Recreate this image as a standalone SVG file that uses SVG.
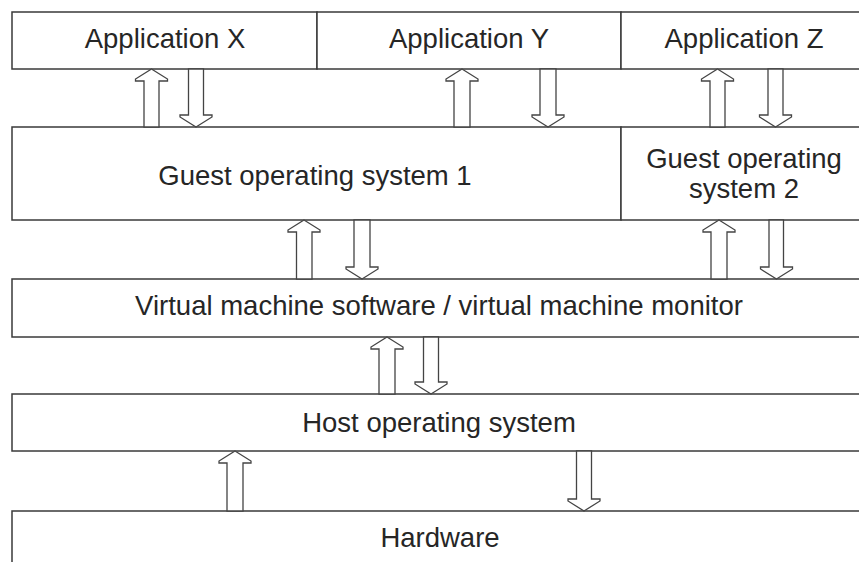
<svg xmlns="http://www.w3.org/2000/svg" width="859" height="562" viewBox="0 0 859 562">
<style>
.box{fill:#fff;stroke:#3a3a3a;stroke-width:1.5}
.lbl{font-family:"Liberation Sans",Arial,Helvetica,sans-serif;font-size:27.5px;fill:#262626;text-anchor:middle}
.arr{fill:#fff;stroke:#444;stroke-width:1.3;stroke-linejoin:miter}
</style>
<rect width="859" height="562" fill="#fff"/>
<g id="app-x"><rect class="box" x="12" y="12" width="305" height="57"/><text class="lbl" x="165" y="48">Application X</text></g>
<g id="app-y"><rect class="box" x="317" y="12" width="304" height="57"/><text class="lbl" x="469" y="48">Application Y</text></g>
<g id="app-z"><rect class="box" x="621" y="12" width="250" height="57"/><text class="lbl" x="744" y="48">Application Z</text></g>
<g id="guest-os-1"><rect class="box" x="12" y="127" width="609" height="93"/><text class="lbl" x="315" y="185">Guest operating system 1</text></g>
<g id="guest-os-2"><rect class="box" x="621" y="127" width="250" height="93"/><text class="lbl" x="744" y="168">Guest operating</text><text class="lbl" x="744" y="198">system 2</text></g>
<g id="vmm"><rect class="box" x="12" y="279" width="859" height="58"/><text class="lbl" x="439" y="315">Virtual machine software / virtual machine monitor</text></g>
<g id="host-os"><rect class="box" x="12" y="394" width="859" height="57"/><text class="lbl" x="439" y="432">Host operating system</text></g>
<g id="hardware"><rect class="box" x="12" y="511" width="859" height="70"/><text class="lbl" x="440" y="547">Hardware</text></g>
<g id="connectors">
<path class="arr" d="M151.5,69 L167.5,79 L167.5,81 L159,81 L159,127 L144,127 L144,81 L135.5,81 L135.5,79 Z"/>
<path class="arr" d="M196,127 L212,117 L212,115 L203.5,115 L203.5,69 L188.5,69 L188.5,115 L180,115 L180,117 Z"/>
<path class="arr" d="M462,69 L478,79 L478,81 L470,81 L470,127 L454,127 L454,81 L446,81 L446,79 Z"/>
<path class="arr" d="M548,127 L564,117 L564,115 L556,115 L556,69 L540,69 L540,115 L532,115 L532,117 Z"/>
<path class="arr" d="M717.5,69 L733.5,79 L733.5,81 L725,81 L725,127 L710,127 L710,81 L701.5,81 L701.5,79 Z"/>
<path class="arr" d="M775.5,127 L791.5,117 L791.5,115 L783,115 L783,69 L768,69 L768,115 L759.5,115 L759.5,117 Z"/>
<path class="arr" d="M304,220 L320,230 L320,232 L312,232 L312,279 L296.5,279 L296.5,232 L288,232 L288,230 Z"/>
<path class="arr" d="M362,279 L378,269 L378,267 L370,267 L370,220 L354,220 L354,267 L346,267 L346,269 Z"/>
<path class="arr" d="M719,220 L735,230 L735,232 L727,232 L727,279 L711,279 L711,232 L703,232 L703,230 Z"/>
<path class="arr" d="M776.5,279 L792.5,269 L792.5,267 L783.5,267 L783.5,220 L769,220 L769,267 L760.5,267 L760.5,269 Z"/>
<path class="arr" d="M387,337 L403,347 L403,349 L395,349 L395,394 L379,394 L379,349 L371,349 L371,347 Z"/>
<path class="arr" d="M431,394 L447,384 L447,382 L438.5,382 L438.5,337 L423.5,337 L423.5,382 L415,382 L415,384 Z"/>
<path class="arr" d="M235,451 L251,461 L251,463 L243,463 L243,511 L227,511 L227,463 L219,463 L219,461 Z"/>
<path class="arr" d="M584,511 L600,501 L600,499 L591.5,499 L591.5,451 L576.5,451 L576.5,499 L568,499 L568,501 Z"/>
</g>
</svg>
